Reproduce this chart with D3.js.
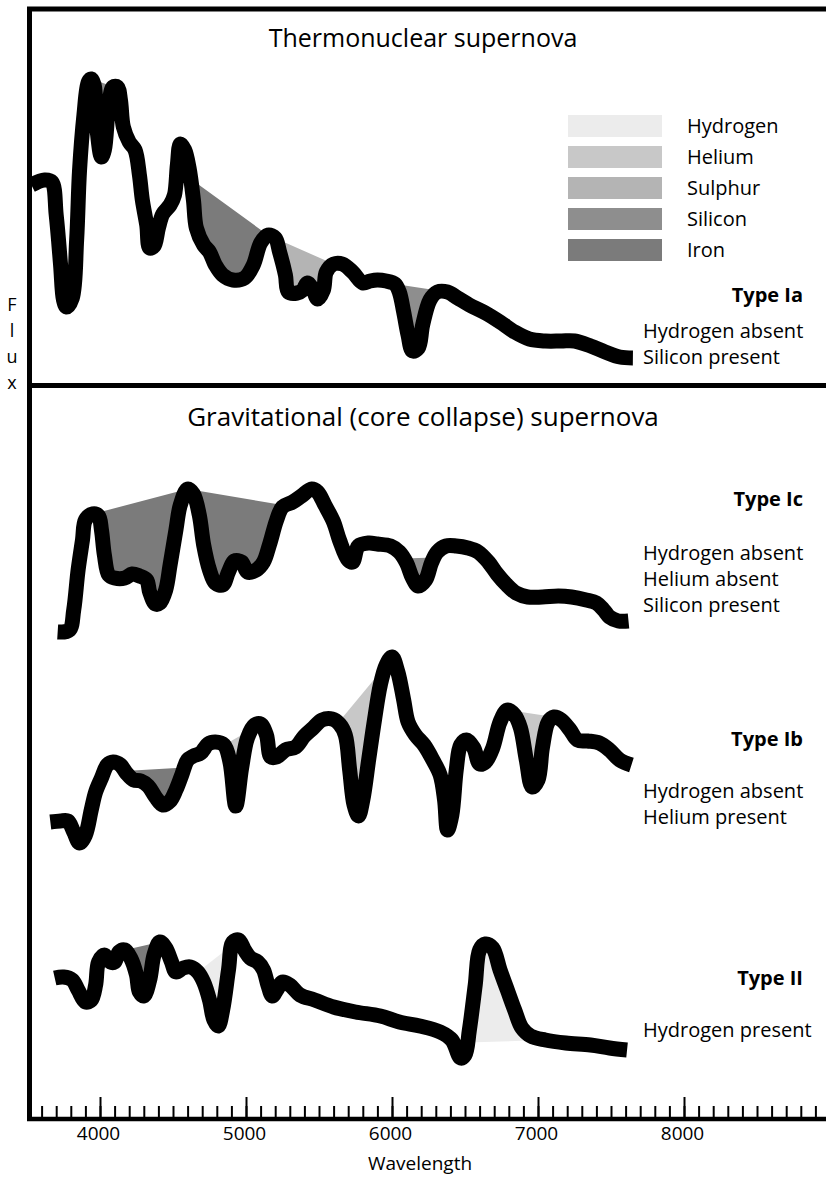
<!DOCTYPE html>
<html lang="en">
<head>
<meta charset="UTF-8">
<script src="https://d3js.org/d3.v7.min.js"></script>
<style>
  html, body { margin: 0; padding: 0; background: #fff; }
  #graph { display: block; }
  text { font-family: "Open Sans", "Noto Sans", sans-serif; fill: #000; }
</style>
</head>
<body>
<svg id="graph" width="826" height="1178"></svg>
<script>
// element colours, legend order
let elements = ['Hydrogen', 'Helium', 'Sulphur', 'Silicon', 'Iron'];
let elementColors = ['#ececec', '#c8c8c8', '#b4b4b4', '#8e8e8e', '#7b7b7b'];

// spectra: [wavelength (Å), flux (arbitrary units)]
let typeIa = [
  [3530, 92.5], [3620, 95], [3670, 94], [3700, 77.5], [3730, 52.5], [3750, 35], [3770, 31.5],
  [3810, 36], [3840, 65], [3860, 100], [3890, 127.5], [3920, 144], [3940, 145.5], [3960, 142.5],
  [3980, 120], [4010, 106.5], [4030, 110], [4060, 132.5], [4090, 141.5], [4120, 141.5], [4140, 135],
  [4160, 121.5], [4200, 114], [4240, 110], [4270, 97.5], [4290, 85], [4320, 72.5], [4340, 61],
  [4370, 62], [4400, 71], [4430, 78], [4480, 82.5], [4510, 87.5], [4530, 102.5], [4550, 113],
  [4580, 110], [4610, 101], [4640, 85], [4660, 71], [4710, 62.5], [4750, 59], [4790, 52.5],
  [4840, 47.5], [4910, 45], [4990, 46], [5050, 52.5], [5100, 63.5], [5150, 67.5], [5200, 66],
  [5230, 59], [5270, 47.5], [5290, 39], [5350, 38.5], [5390, 40], [5420, 43.5], [5460, 40],
  [5490, 35.5], [5530, 40], [5550, 49], [5600, 53], [5660, 53], [5730, 49], [5800, 43.5],
  [5850, 44.5], [5900, 45], [5960, 44.5], [6020, 43], [6050, 39], [6080, 29], [6110, 17.5],
  [6140, 9.5], [6180, 11], [6210, 22.5], [6260, 35], [6310, 39], [6380, 39], [6450, 36],
  [6530, 32.5], [6640, 28.5], [6740, 24], [6840, 19], [6940, 15.5], [7050, 14.5], [7160, 14.5],
  [7250, 14.5], [7360, 12], [7460, 9], [7560, 6.5], [7650, 6]
];
let typeIc = [
  [3710, 9], [3790, 10], [3820, 20], [3850, 40], [3880, 55], [3900, 65], [3950, 68], [3990, 67],
  [4010, 60], [4030, 47.5], [4060, 37.5], [4100, 36], [4170, 36], [4220, 38], [4270, 37],
  [4320, 35], [4340, 29], [4380, 23], [4410, 23.5], [4450, 30], [4480, 42.5], [4520, 60],
  [4550, 72.5], [4600, 80.5], [4640, 78], [4680, 67.5], [4710, 52.5], [4750, 40], [4790, 33.5],
  [4840, 32.5], [4880, 39], [4920, 44.5], [4970, 44], [5010, 39], [5070, 40], [5120, 44],
  [5160, 52.5], [5210, 65], [5250, 71.5], [5320, 74], [5380, 77], [5450, 80.5], [5490, 79],
  [5540, 72.5], [5600, 64], [5640, 55], [5700, 45], [5730, 44], [5770, 52], [5840, 53.5],
  [5900, 53], [5990, 52], [6050, 49], [6100, 43.5], [6140, 36], [6180, 32], [6230, 35],
  [6270, 43.5], [6310, 49], [6370, 52], [6440, 52], [6520, 51], [6590, 49], [6660, 44],
  [6720, 38], [6780, 33], [6850, 28.5], [6930, 26.5], [7030, 26.5], [7140, 27], [7230, 26.5],
  [7330, 25], [7400, 23.5], [7450, 20], [7490, 16.5], [7550, 14.5], [7620, 14.5]
];
let typeIb = [
  [3660, 19], [3730, 19.5], [3780, 19.5], [3820, 14], [3860, 8.5], [3900, 12.5], [3940, 25],
  [3970, 34], [4010, 41], [4050, 47.5], [4090, 49], [4140, 47.5], [4180, 43.5], [4230, 40],
  [4280, 39.5], [4330, 37], [4380, 31.5], [4430, 27.5], [4480, 29.5], [4520, 35], [4560, 42.5],
  [4600, 50], [4640, 52], [4690, 53.5], [4740, 58], [4790, 59], [4850, 57.5], [4890, 49],
  [4930, 27], [4970, 46], [5010, 61], [5060, 67.5], [5100, 68], [5140, 62.5], [5170, 51.5],
  [5210, 51.5], [5270, 55], [5340, 56.5], [5400, 62], [5460, 66], [5520, 70], [5590, 70.5],
  [5640, 68], [5680, 62.5], [5710, 45], [5740, 27.5], [5770, 22], [5800, 30], [5840, 50],
  [5880, 70], [5920, 87.5], [5960, 97.5], [6000, 101.5], [6040, 94], [6080, 80], [6110, 69],
  [6160, 62.5], [6220, 57.5], [6280, 50], [6330, 42.5], [6360, 30], [6380, 15], [6410, 22.5],
  [6440, 45], [6470, 57.5], [6510, 60], [6560, 56], [6600, 48], [6640, 49], [6690, 56],
  [6740, 69], [6790, 75], [6840, 72.5], [6880, 66], [6920, 50], [6960, 36.5], [7000, 40],
  [7030, 56], [7070, 69], [7110, 71.5], [7160, 70], [7220, 65], [7270, 60], [7340, 59.5],
  [7420, 58.5], [7490, 55], [7560, 50], [7640, 47.5]
];
let typeII = [
  [3690, 41], [3750, 41.5], [3810, 40], [3850, 35], [3900, 29], [3940, 30], [3970, 37.5],
  [3990, 49], [4030, 52.5], [4070, 49], [4100, 49], [4130, 54], [4170, 55], [4210, 51],
  [4250, 42.5], [4270, 34], [4300, 32], [4340, 40], [4370, 52.5], [4410, 59], [4450, 56],
  [4490, 49], [4520, 44], [4570, 46], [4620, 46.5], [4670, 44], [4710, 39], [4750, 30],
  [4780, 20], [4810, 17], [4840, 25], [4880, 45], [4910, 59], [4950, 60], [4990, 55],
  [5030, 51], [5080, 49], [5120, 45], [5150, 37.5], [5180, 32], [5210, 35], [5250, 39],
  [5300, 37.5], [5370, 32.5], [5470, 30], [5600, 26.5], [5750, 24], [5920, 22], [6050, 19],
  [6190, 17], [6330, 14], [6410, 10], [6470, 1], [6500, 2.5], [6530, 15], [6570, 37.5],
  [6600, 55], [6640, 58], [6690, 56], [6740, 45], [6790, 35], [6840, 25], [6890, 16],
  [6950, 12], [7050, 10], [7190, 8.5], [7360, 7.5], [7490, 6], [7610, 5]
];

// shaded line features: [from Å, to Å, element]
let featuresIa = [[3940, 4100, 'Silicon'], [4620, 5150, 'Iron'], [5150, 5600, 'Sulphur'], [6020, 6380, 'Silicon']];
let featuresIc = [[3950, 4600, 'Iron'], [4600, 5270, 'Iron'], [6080, 6290, 'Silicon']];
let featuresIb = [[4170, 4580, 'Iron'], [4850, 5100, 'Helium'], [5630, 5965, 'Helium'], [6790, 7110, 'Helium']];
let featuresII = [[4170, 4410, 'Iron'], [4670, 4950, 'Hydrogen'], [6515, 7050, 'Hydrogen']];

let typeNames = ['Type Ia', 'Type Ic', 'Type Ib', 'Type II'];
let typeNotes = [
  ['Hydrogen absent', 'Silicon present'],
  ['Hydrogen absent', 'Helium absent', 'Silicon present'],
  ['Hydrogen absent', 'Helium present'],
  ['Hydrogen present']
];
let panelTitles = ['Thermonuclear supernova', 'Gravitational (core collapse) supernova'];

let majorTicks = [4000, 5000, 6000, 7000, 8000];
let minorTicks = d3.range(3600, 9000, 100);

// layout
let spectra = [typeIa, typeIc, typeIb, typeII];
let features = [featuresIa, featuresIc, featuresIb, featuresII];
let baseY = [370, 650, 860, 1060];       // pixel row of flux 0 for each spectrum
let nameY = [302, 506, 746, 985];
let notesY = [338, 560, 798, 1037];
let axisY = 1117;

let svg = d3.select('#graph');
let x = d3.scaleLinear().domain([4000, 8000]).range([100, 684]);
let colorOf = d3.scaleOrdinal().domain(elements).range(elementColors);

function valueAt(data, w) {
  let i = d3.bisector(d => d[0]).left(data, w);
  if (i <= 0) return data[0][1];
  if (i >= data.length) return data[data.length - 1][1];
  let a = data[i - 1], b = data[i];
  return a[1] + (b[1] - a[1]) * (w - a[0]) / (b[0] - a[0]);
}

let fillGroup = svg.append('g');
let lineGroup = svg.append('g');

spectra.forEach((data, k) => {
  let y = d3.scaleLinear().domain([0, 100]).range([baseY[k], baseY[k] - 200]);

  // feature shading: the curve between two wavelengths closed by a straight chord
  features[k].forEach(f => {
    let pts = [[f[0], valueAt(data, f[0])]]
      .concat(data.filter(d => d[0] > f[0] && d[0] < f[1]))
      .concat([[f[1], valueAt(data, f[1])]]);
    fillGroup.append('path')
      .attr('d', d3.line().x(d => x(d[0])).y(d => y(d[1]))(pts) + 'Z')
      .attr('fill', colorOf(f[2]));
  });

  lineGroup.append('path')
    .attr('d', d3.line().x(d => x(d[0])).y(d => y(d[1])).curve(d3.curveCatmullRom.alpha(0.5))(data))
    .attr('fill', 'none')
    .attr('stroke', '#000')
    .attr('stroke-width', 15)
    .attr('stroke-linejoin', 'round')
    .attr('stroke-linecap', 'butt');

  svg.append('text')
    .attr('x', 803).attr('y', nameY[k])
    .attr('text-anchor', 'end')
    .style('font-size', '20px').style('font-weight', 'bold')
    .text(typeNames[k]);

  typeNotes[k].forEach((t, j) => {
    svg.append('text')
      .attr('x', 643).attr('y', notesY[k] + j * 26)
      .style('font-size', '20px')
      .text(t);
  });
});

// frame
let frame = svg.append('g').attr('stroke', '#000').attr('fill', 'none');
frame.append('line').attr('x1', 27).attr('x2', 826).attr('y1', 9).attr('y2', 9).attr('stroke-width', 5);
frame.append('line').attr('x1', 29.5).attr('x2', 29.5).attr('y1', 7).attr('y2', axisY + 4).attr('stroke-width', 5);
frame.append('line').attr('x1', 27).attr('x2', 826).attr('y1', 385.5).attr('y2', 385.5).attr('stroke-width', 5);
frame.append('line').attr('x1', 27).attr('x2', 826).attr('y1', axisY + 2).attr('y2', axisY + 2).attr('stroke-width', 4.5);

// x axis ticks (drawn upward) and labels
let minorAxis = svg.append('g').attr('transform', `translate(0,${axisY})`)
  .call(d3.axisTop(x).tickValues(minorTicks).tickSize(11).tickFormat(''));
let majorAxis = svg.append('g').attr('transform', `translate(0,${axisY})`)
  .call(d3.axisTop(x).tickValues(majorTicks).tickSize(20).tickFormat(''));
[minorAxis, majorAxis].forEach(g => {
  g.select('.domain').remove();
  g.selectAll('line').attr('stroke', '#000').attr('stroke-width', 2);
});
let labelAxis = svg.append('g').attr('transform', `translate(-2,${axisY})`)
  .call(d3.axisBottom(x).tickValues(majorTicks).tickSize(0).tickPadding(10).tickFormat(d3.format('d')));
labelAxis.select('.domain').remove();
labelAxis.selectAll('text')
  .style('font-family', '"Open Sans", sans-serif')
  .style('font-size', '19px')
  .attr('fill', '#000');

svg.append('text')
  .attr('x', 420).attr('y', 1170)
  .attr('text-anchor', 'middle')
  .style('font-size', '19px')
  .text('Wavelength');

// vertical "Flux" label, one letter per row
'Flux'.split('').forEach((c, i) => {
  svg.append('text')
    .attr('x', 12).attr('y', 311 + i * 26)
    .attr('text-anchor', 'middle')
    .style('font-size', '18px')
    .text(c);
});

// panel titles
svg.append('text').attr('x', 423).attr('y', 47).attr('text-anchor', 'middle')
  .style('font-size', '25px').text(panelTitles[0]);
svg.append('text').attr('x', 423).attr('y', 426).attr('text-anchor', 'middle')
  .style('font-size', '26px').text(panelTitles[1]);

// legend
let legend = svg.append('g');
elements.forEach((e, i) => {
  let top = 115 + i * 31;
  legend.append('rect')
    .attr('x', 568).attr('y', top).attr('width', 94).attr('height', 22)
    .attr('fill', colorOf(e));
  legend.append('text')
    .attr('x', 687).attr('y', top + 18)
    .style('font-size', '20px')
    .text(e);
});
</script>
</body>
</html>
